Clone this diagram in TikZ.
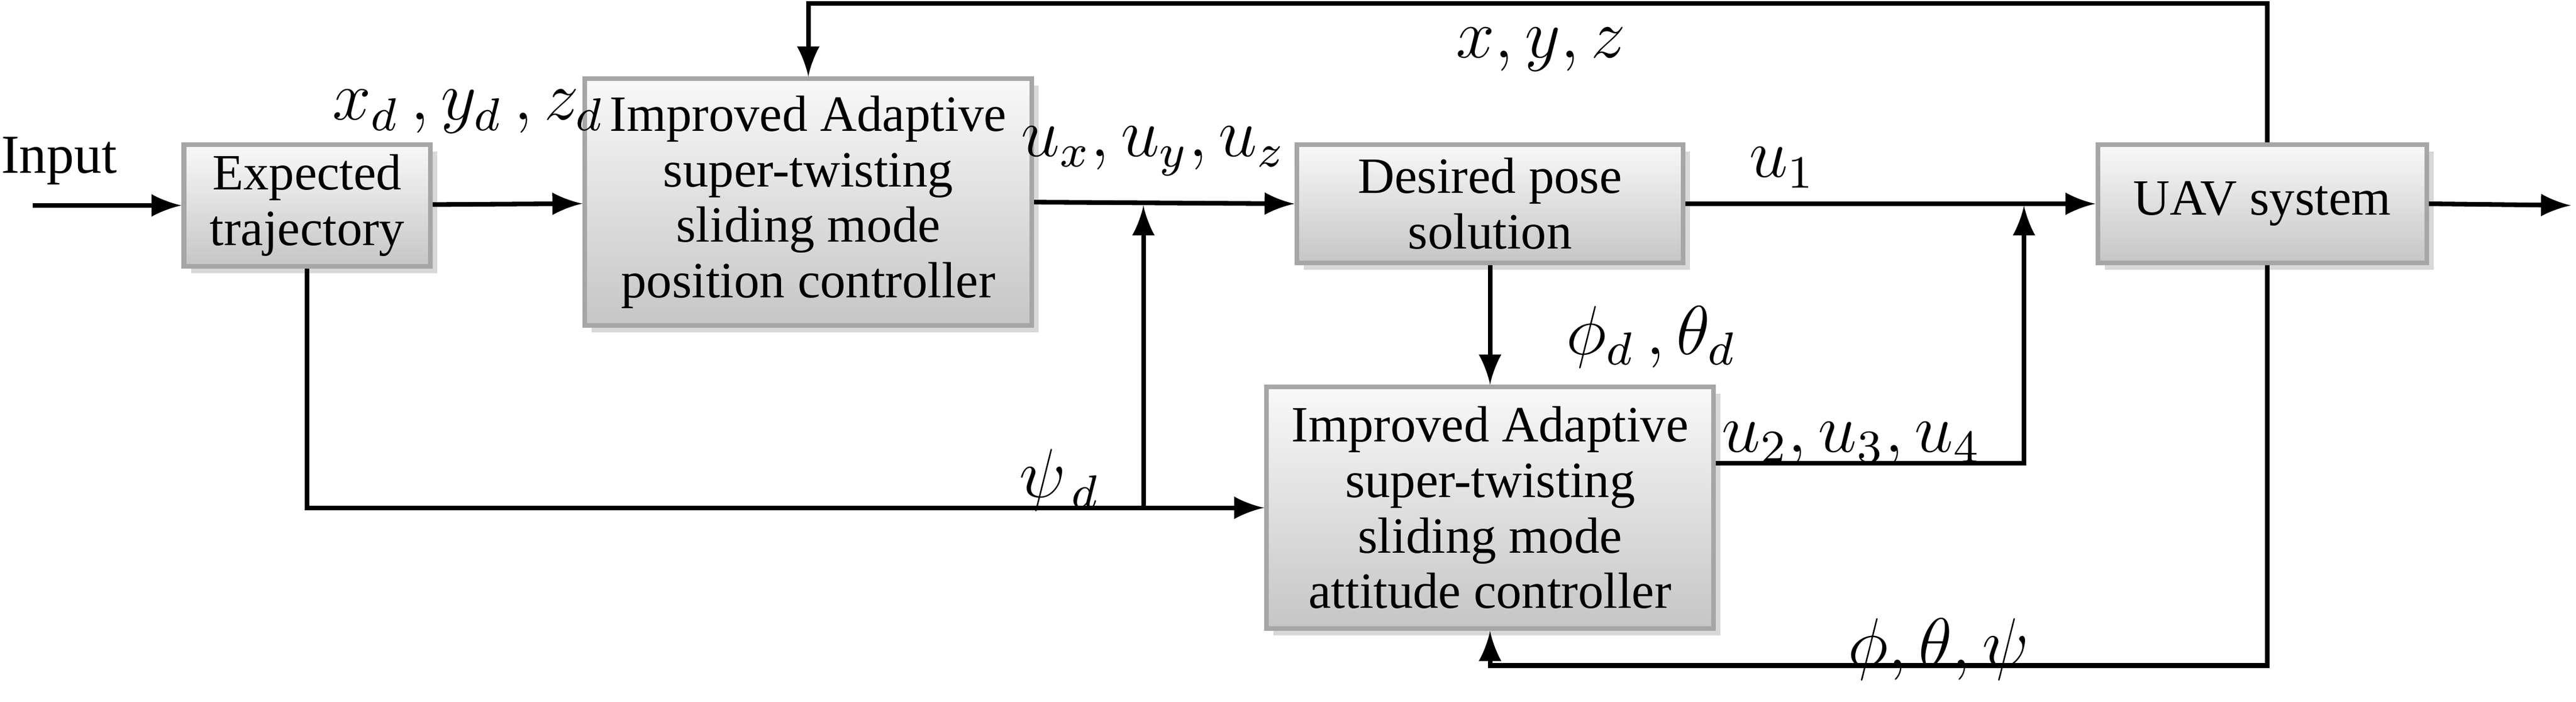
\documentclass[tikz,border=0pt]{standalone}
\usepackage{fontspec}
\setmainfont{Liberation Serif}
\usetikzlibrary{calc}
\usetikzlibrary{arrows}
\usetikzlibrary{shadows}
\usetikzlibrary{positioning}
\tikzset{blk/.style={draw=gray!70,top color=gray!5,bottom color=gray!45,drop shadow={shadow xshift=1.2pt,shadow yshift=-1.2pt,fill=gray!60},align=center,inner sep=1pt,font=\fontsize{8.8}{9.6}\selectfont}}
\tikzset{sig/.style={font=\fontsize{11.5}{11.5}\selectfont}}

\begin{document}
\begin{tikzpicture}[x=0.01cm,y=-0.01cm,>=latex,thick]
\useasboundingbox (0,0) rectangle (1568,427);

\node[blk,minimum width=1.5cm,minimum height=0.74cm] (traj) at (187,125) {Expected\\trajectory};
\node[blk,minimum width=2.72cm,minimum height=1.5cm] (pos) at (492,123) {Improved Adaptive\\super-twisting\\sliding mode\\position controller};
\node[blk,minimum width=2.35cm,minimum height=0.72cm] (pose) at (907,124) {Desired pose\\solution};
\node[blk,minimum width=2cm,minimum height=0.72cm] (uav) at (1377,124) {UAV system};
\node[blk,minimum width=2.72cm,minimum height=1.47cm] (att) at (907,309) {Improved Adaptive\\super-twisting\\sliding mode\\attitude controller};

\coordinate (in) at (20,125);
\coordinate (out) at (1565,125);
\coordinate (j1) at (696,125);
\coordinate (j2) at (696,309);
\coordinate (j3) at (1232,125);
\coordinate (c1) at (187,309);
\coordinate (c2) at (1232,282);
\coordinate (c3) at (1380,405);
\coordinate (c4) at (907,405);
\coordinate (c5) at (1380,2);
\coordinate (c6) at (492,2);

\node[font=\fontsize{9.5}{9.5}\selectfont] (inlbl) at (36,98) {Input};
\draw[->] (in) -- (traj);
\draw[->] (traj) -- (pos);
\draw[->] (pos.east) -- (pose.west);
\draw[->] (pose.east) -- (uav.west);
\draw[->] (uav.east) -- (out);
\draw[->] (traj.south) -- (c1) -- (att.west);
\draw[->] (j2) -- (j1);
\draw[->] (pose.south) -- (att.north);
\draw[->] (att.east |- c2) -- (c2) -- (j3);
\draw[->] (uav.south -| c3) -- (c3) -- (c4) -- (att.south);
\draw[->] (uav.north -| c5) -- (c5) -- (c6) -- (pos.north);

\node[sig] (xd) at (285,68) {$x_d\,,y_d\,,z_d$};
\node[sig] (ux) at (702,92) {$u_x,u_y,u_z$};
\node[sig] (u1) at (1085,102) {$u_1$};
\node[sig] (xyz) at (938,30) {$x,y,z$};
\node[sig] (psid) at (645,292) {$\psi_{\,d}$};
\node[sig] (ang) at (1005,205) {$\phi_d\,,\theta_d$};
\node[sig] (u2) at (1127,270) {$u_2,u_3,u_4$};
\node[sig] (ptp) at (1180,395) {$\phi,\theta,\psi$};
\end{tikzpicture}
\end{document}
